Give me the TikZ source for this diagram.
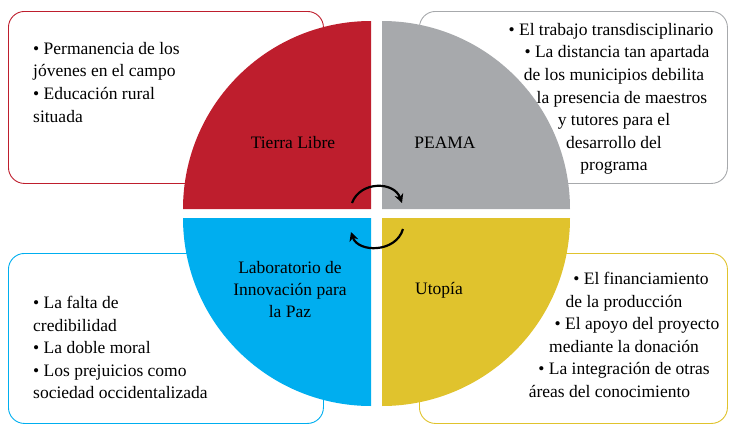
\documentclass[tikz,border=0pt]{standalone}
\usepackage{fontspec}
\setmainfont{Liberation Serif}
\usepackage{xcolor}
\usetikzlibrary{arrows.meta,positioning}
\definecolor{libreRed}{RGB}{190,30,45}
\definecolor{peamaGray}{RGB}{167,169,172}
\definecolor{labBlue}{RGB}{0,174,239}
\definecolor{utopiaYellow}{RGB}{224,195,45}

\begin{document}
\begin{tikzpicture}[x=1pt, y=-1pt,
    sidebox/.style={draw, line width=0.9pt, rounded corners=16pt, inner sep=0pt, anchor=north west},
    listtext/.style={font=\fontsize{17.5}{22.6}\selectfont, inner sep=0pt},
    quadlabel/.style={font=\fontsize{17.5}{22}\selectfont, align=center, inner sep=0pt},
    turnarrow/.style={-{Stealth[length=9pt, width=9pt]}, line width=2.2pt}]
    \useasboundingbox (0,0) rectangle (729,434);

    % Side boxes (behind the circle)
    \node[sidebox, draw=libreRed, minimum width=315pt, minimum height=172pt] (boxLibre) at (8,11) {};
    \node[sidebox, draw=peamaGray, minimum width=308pt, minimum height=172pt] (boxPeama) at (419,11) {};
    \node[sidebox, draw=labBlue, minimum width=315pt, minimum height=170pt] (boxLab) at (8,253) {};
    \node[sidebox, draw=utopiaYellow, minimum width=308pt, minimum height=170pt] (boxUtopia) at (419,253) {};

    % Quadrants
    \fill[libreRed] (371,209) -- ++(-188,0) arc[start angle=180, end angle=90, radius=188pt] -- cycle;
    \fill[peamaGray] (382,209) -- ++(0,-188) arc[start angle=90, end angle=0, radius=188pt] -- cycle;
    \fill[labBlue] (371,218) -- ++(-188,0) arc[start angle=180, end angle=270, radius=188pt] -- cycle;
    \fill[utopiaYellow] (382,218) -- ++(188,0) arc[start angle=0, end angle=-90, radius=188pt] -- cycle;

    % Quadrant labels
    \node[quadlabel] (libre) at (293,143) {Tierra Libre};
    \node[quadlabel] (peama) at (445,143) {PEAMA};
    \node[quadlabel] (lab) at (290,290) {Laboratorio de\\Innovación para\\la Paz};
    \node[quadlabel] (utopia) at (439,290) {Utopía};

    % Lists in the boxes
    \node[listtext, align=left, anchor=north west] (listLibre) at (33,42)
        {• Permanencia de los\\jóvenes en el campo\\• Educación rural\\situada};
    \node[listtext, align=center, anchor=north] (listPeama) at (614,23)
        {• El trabajo transdisciplinario\hspace*{6pt}\\\hspace*{6pt}• La distancia tan apartada\\de los municipios debilita\\\hspace*{16pt}la presencia de maestros\\y tutores para el\hspace*{4pt}\\desarrollo del\\programa};
    \node[listtext, align=center, anchor=north] (listUtopia) at (624,272)
        {\hspace*{34pt}• El financiamiento\\de la producción\\\hspace*{26pt}• El apoyo del proyecto\\mediante la donación\\• La integración de otras\\áreas del conocimiento\hspace*{29pt}};
    \node[listtext, align=left, anchor=north west] (listLab) at (33,296)
        {• La falta de\\credibilidad\\• La doble moral\\• Los prejuicios como\\sociedad occidentalizada};

    % Cycle arrows in the middle
    \coordinate (topL) at (352,203);
    \coordinate (topR) at (402,203);
    \coordinate (botR) at (403,229);
    \coordinate (botL) at (351,232);
    \draw[turnarrow] (topL) .. controls (360,181) and (394,181) .. (topR);
    \draw[turnarrow] (botR) .. controls (396,253) and (358,253) .. (botL);
\end{tikzpicture}
\end{document}
